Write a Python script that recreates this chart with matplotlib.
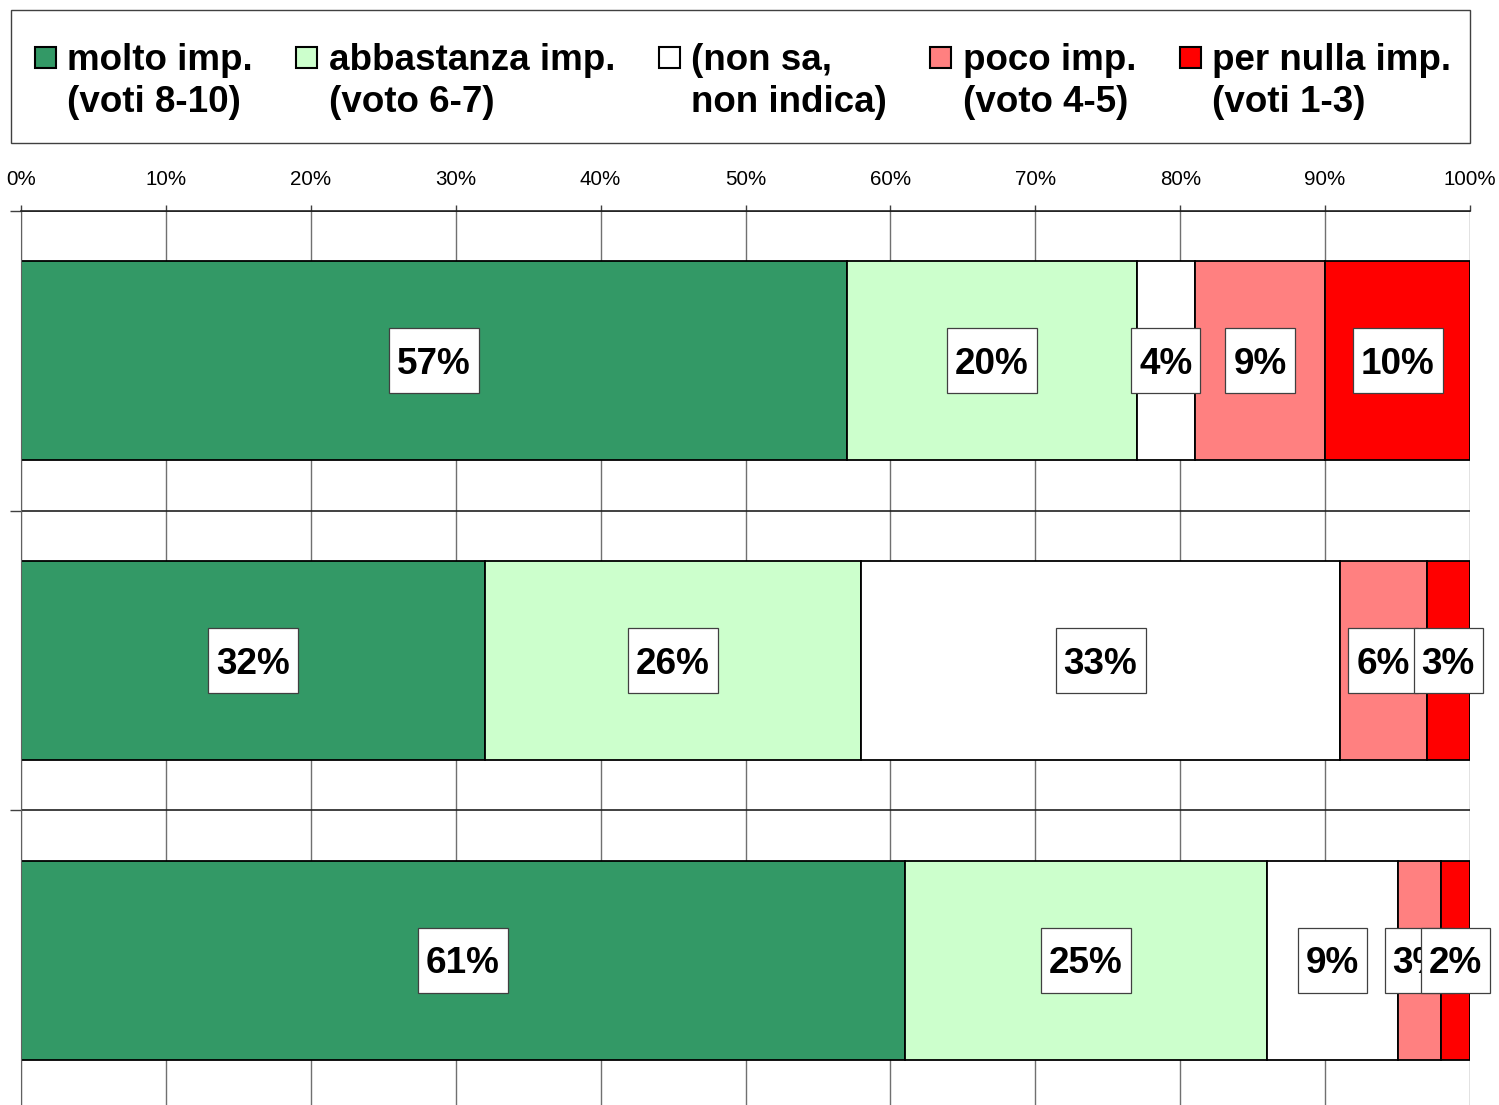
import matplotlib
matplotlib.use("Agg")
import matplotlib.pyplot as plt
from matplotlib.patches import Rectangle
from matplotlib.legend_handler import HandlerPatch
from matplotlib.font_manager import FontProperties
from matplotlib.path import Path
import numpy as np

plt.rcParams['font.family'] = ['Liberation Sans', 'DejaVu Sans']

series_labels = ["molto imp.\n(voti 8-10)", "abbastanza imp.\n(voto 6-7)",
                 "(non sa,\nnon indica)", "poco imp.\n(voto 4-5)",
                 "per nulla imp.\n(voti 1-3)"]
colors = ["#339966", "#CCFFCC", "#FFFFFF", "#FF8080", "#FF0000"]
categories = ["A", "B", "C"]
molto = [57, 32, 61]
abbastanza = [20, 26, 25]
non_sa = [4, 33, 9]
poco = [9, 6, 3]
per_nulla = [10, 3, 2]
values = [molto, abbastanza, non_sa, poco, per_nulla]
xticks = list(range(0, 101, 10))
xticklabels = [f"{t}%" for t in xticks]

W, H, DPI = 1499, 1105, 100
FS = 26.6          # bar labels
FS_LEG = 26.5      # legend labels
fig = plt.figure(figsize=(W / DPI, H / DPI), dpi=DPI)
renderer = fig.canvas.get_renderer()
bold = FontProperties(family=['Liberation Sans'], weight='bold', size=FS)
bold_leg = FontProperties(family=['Liberation Sans'], weight='bold', size=FS_LEG)


def metrics(s, prop):
    _, h, d = renderer.get_text_width_height_descent(s, prop, ismath=False)
    return h, d


LP_H, LP_D = metrics("lp", bold)
LLP_H, LLP_D = metrics("lp", bold_leg)

ax = fig.add_axes([21 / W, 1 - 1110 / H, (1470 - 21) / W, (1110 - 211) / H])

y = np.arange(len(categories))
left = np.zeros(len(categories))
handles = []
for vals, col, lab in zip(values, colors, series_labels):
    vals = np.array(vals, dtype=float)
    b = ax.barh(y, vals, left=left, height=0.665, color=col, edgecolor="black",
                linewidth=1.3, label=lab, zorder=2)
    handles.append(b)
    left = left + vals


def label_box(x0, y0, width, height, mutation_size):
    # centre the box on the digits (baseline + half digit height)
    cy = y0 + LP_D + 0.358 * mutation_size
    hh = 0.88 * mutation_size
    px = 0.22 * mutation_size
    xa, xb = x0 - px, x0 + width + px
    ya, yb = cy - hh, cy + hh
    return Path([(xa, ya), (xb, ya), (xb, yb), (xa, yb), (xa, ya)],
                [Path.MOVETO, Path.LINETO, Path.LINETO, Path.LINETO, Path.CLOSEPOLY])


left = np.zeros(len(categories))
for vals in values:
    for i, v in enumerate(vals):
        ax.annotate(f"{v}%", xy=(left[i] + v / 2, y[i]), xytext=(0, -0.358 * FS),
                    textcoords="offset points", ha="center", va="baseline",
                    fontsize=FS, fontweight="bold", zorder=5,
                    bbox=dict(boxstyle=label_box, fc="white", ec="#404040", lw=0.9))
    left = left + np.array(vals)

ax.set_xlim(0, 100)
ax.set_ylim(2.5, -0.5)
ax.xaxis.tick_top()
ax.set_xticks(xticks)
ax.set_xticklabels(xticklabels, fontsize=14.8)
ax.tick_params(axis="x", direction="out", length=4, width=1, color="#404040", pad=11.5)
ax.set_yticks([])
ax.set_yticks([-0.5, 0.5, 1.5], minor=True)
ax.tick_params(axis="y", which="minor", direction="out", length=8, width=1, color="#404040")
ax.set_yticklabels([], minor=True)
ax.grid(axis="x", which="major", color="#707070", lw=1, zorder=0)
ax.grid(axis="y", which="minor", color="#202020", lw=1.2, zorder=0)
ax.set_axisbelow(True)
for s in ["right", "bottom"]:
    ax.spines[s].set_visible(False)
ax.spines["left"].set_color("#606060")
ax.spines["top"].set_color("#202020")
ax.spines["top"].set_linewidth(1.2)


def make_patch(legend, orig_handle, xdescent, ydescent, width, height, fontsize):
    return Rectangle((-xdescent, -ydescent), width, width)


LS = 1.2
leg = fig.legend(handles=[h[0] for h in handles], labels=series_labels,
                 loc="upper left", bbox_to_anchor=(35 / W, 1 - 34 / H),
                 ncol=5, prop=bold_leg,
                 handlelength=0.57, handleheight=0.57, handletextpad=0.31,
                 columnspacing=1.18, borderpad=0, borderaxespad=0,
                 frameon=False,
                 handler_map={Rectangle: HandlerPatch(patch_func=make_patch)})
for t in leg.get_texts():
    t.set_linespacing(LS)
for p in leg.legend_handles:
    p.set_linewidth(1.5)
    p.set_edgecolor("black")

# legend frame
fig.patches.append(Rectangle((11 / W, 1 - 143 / H), (1470 - 11) / W, 133 / H,
                             transform=fig.transFigure, fill=False,
                             ec="#404040", lw=1.0, zorder=10))


def first_line_geom(t):
    lines = t.get_text().split("\n")
    h0, d0 = metrics(lines[0], bold_leg)
    h1, d1 = metrics(lines[-1], bold_leg)
    h0, d0 = max(h0, LLP_H), max(d0, LLP_D)
    d1 = max(d1, LLP_D)
    bb = t.get_window_extent(renderer)
    gap = bb.height - (h0 - d0) - d1
    first_base = bb.y1 - (h0 - d0)
    return gap, first_base


# set the line gap of the labels to the reference value (~42 px)
fig.canvas.draw()
gap, _ = first_line_geom(leg.get_texts()[0])
LS = LS * 42.3 / gap
for t in leg.get_texts():
    t.set_linespacing(LS)
fig.canvas.draw()
# align first baseline of legend labels with the reference
_, first_base = first_line_geom(leg.get_texts()[0])
dy = (H - 69.8) - first_base
leg.set_bbox_to_anchor((35 / W, 1 - 34 / H + dy / H), transform=fig.transFigure)
fig.canvas.draw()
# handles: bottom of square on first baseline
for p in leg.legend_handles:
    ext = p.get_window_extent(renderer)
    ddy = (H - 67.6) - ext.y0
    p.set_y(p.get_y() + ddy * 72.0 / DPI)

fig.savefig("out.png", dpi=DPI)
